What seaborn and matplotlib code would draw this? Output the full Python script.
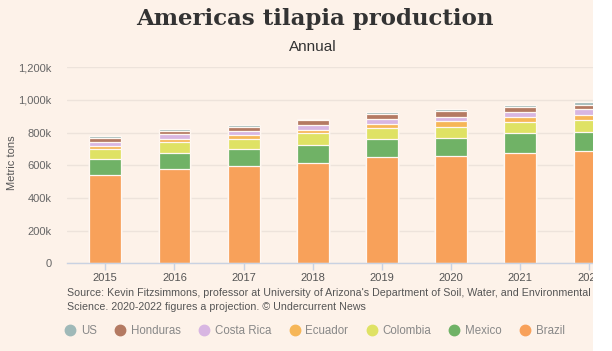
import numpy as np
import pandas as pd
import matplotlib
matplotlib.use("Agg")
import matplotlib.pyplot as plt
import seaborn as sns
from matplotlib.lines import Line2D
from matplotlib.patches import Rectangle

years = ["2015", "2016", "2017", "2018", "2019", "2020", "2021", "2022"]
brazil = [539, 577, 597, 617, 652, 658, 677, 688]
mexico = [98, 100, 105, 108, 108, 112, 121, 117]
colombia = [63, 63, 62, 70, 66, 67, 66, 71]
ecuador = [17, 22, 21, 20, 29, 32, 32, 32]
costa_rica = [27, 27, 24, 34, 28, 28, 30, 35]
honduras = [26, 24, 25, 28, 34, 35, 34, 24]
us = [12, 12, 13, 9, 12, 10, 12, 19]

stack_order = ["Brazil", "Mexico", "Colombia", "Ecuador", "Costa Rica", "Honduras", "US"]
legend_order = ["US", "Honduras", "Costa Rica", "Ecuador", "Colombia", "Mexico", "Brazil"]
series = {"Brazil": brazil, "Mexico": mexico, "Colombia": colombia, "Ecuador": ecuador,
          "Costa Rica": costa_rica, "Honduras": honduras, "US": us}
colors = {"US": "#9FB9B8", "Honduras": "#B47A62", "Costa Rica": "#D8B6E2",
          "Ecuador": "#F6B657", "Colombia": "#DFE264", "Mexico": "#70B266",
          "Brazil": "#F8A15A"}
yticks = [0, 200, 400, 600, 800, 1000, 1200]
ytick_labels = ["0", "200k", "400k", "600k", "800k", "1,000k", "1,200k"]

BG = "#FDF2E9"
W, H = 612, 351

sns.set_theme(style="white")
plt.rcParams['font.family'] = ['Liberation Sans', 'DejaVu Sans']

fig = plt.figure(figsize=(W / 100, H / 100), dpi=100, facecolor=BG)

# axes geometry in pixels
ax_left_px, ax_right_px = 66.7, 640.0
ax_top_px, ax_bot_px = 67.3, 263.3
ax = fig.add_axes([ax_left_px / W, 1 - ax_bot_px / H,
                   (ax_right_px - ax_left_px) / W, (ax_bot_px - ax_top_px) / H])
ax.set_facecolor(BG)

df = pd.DataFrame({"year": years, **series})
cum = np.zeros(len(years))
layers = []
for c in stack_order:
    cum = cum + np.array(series[c], dtype=float)
    layers.append((c, cum.copy()))

for c, cv in reversed(layers):
    sns.barplot(x=df["year"], y=cv, color=colors[c], saturation=1, width=0.46,
                edgecolor="#FFF8F2", linewidth=0.9, ax=ax, order=years)

spacing = 69.17
x0 = -(105.3 - ax_left_px) / spacing
x1 = (ax_right_px - 105.3) / spacing
ax.set_xlim(x0, x1)
ax.set_ylim(0, 1200)
ax.set_yticks(yticks)
ax.set_yticklabels(ytick_labels)
ax.set_axisbelow(True)
ax.yaxis.grid(True, color="#EDE3DB", linewidth=1.0)
ax.xaxis.grid(False)
for s in ["top", "right", "left"]:
    ax.spines[s].set_visible(False)
ax.spines["bottom"].set_color("#C9D2E2")
ax.spines["bottom"].set_linewidth(1.0)
ax.tick_params(axis="x", bottom=True, length=5, width=1, color="#C9D2E2",
               labelsize=8, labelcolor="#555555", pad=2)
ax.tick_params(axis="y", left=False, length=0, labelsize=8, labelcolor="#666666", pad=11)
ax.set_xlabel("")
ax.set_ylabel("")
fig.text(12 / W, 1 - 163 / H, "Metric tons", rotation=90, ha="center", va="center",
         fontsize=8, color="#555555")

fig.text(315 / W, 1 - 19 / H, "Americas tilapia production", ha="center", va="center",
         fontsize=16.5, fontweight="bold", color="#333333", family=["DejaVu Serif"])
fig.text(313 / W, 1 - 47 / H, "Annual", ha="center", va="center",
         fontsize=11, color="#333333")

fig.text(67 / W, 1 - 300 / H,
         "Source: Kevin Fitzsimmons, professor at University of Arizona's Department of Soil, Water, and Environmental\n"
         "Science. 2020-2022 figures a projection. \u00a9 Undercurrent News",
         ha="left", va="center", fontsize=7.7, color="#555555", linespacing=1.55)

handles = [Line2D([0], [0], marker="o", linestyle="", markersize=7.5,
                  markerfacecolor=colors[c], markeredgecolor=colors[c]) for c in legend_order]
leg = fig.legend(handles, legend_order, loc="center left", bbox_to_anchor=(60 / W, 1 - 331 / H),
                 ncol=7, frameon=False, fontsize=8.3, handletextpad=0.45, columnspacing=1.5,
                 handlelength=1.0, borderaxespad=0)
for t in leg.get_texts():
    t.set_color("#888888")

fig.add_artist(Rectangle((593 / W, 0), 1, 1, transform=fig.transFigure,
                         facecolor="white", edgecolor="none", zorder=100))

fig.savefig("out.png", dpi=100, facecolor=BG)
